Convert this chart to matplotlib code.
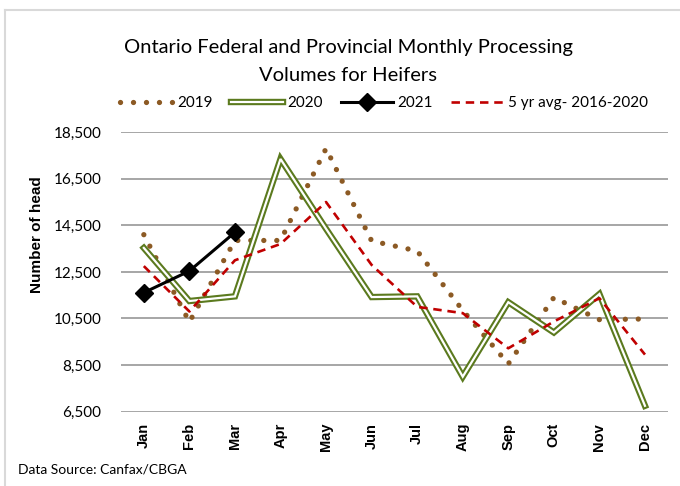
import matplotlib
matplotlib.use("Agg")
import matplotlib.pyplot as plt
from matplotlib.lines import Line2D
from matplotlib.legend_handler import HandlerTuple

months = ["Jan", "Feb", "Mar", "Apr", "May", "Jun", "Jul", "Aug", "Sep", "Oct", "Nov", "Dec"]
y2019 = [14100, 10350, 13850, 13850, 17800, 13830, 13400, 10850, 8550, 11400, 10450, 10480]
y2020 = [13530, 11250, 11450, 17350, 14350, 11420, 11450, 8000, 11200, 9900, 11550, 6750]
y2021 = [11610, 12540, 14200]
y5yr = [12750, 10800, 13000, 13700, 15500, 12800, 11000, 10730, 9220, 10370, 11370, 8950]
yticks = [6500, 8500, 10500, 12500, 14500, 16500, 18500]

title_font = ["Lato", "DejaVu Sans"]

fig = plt.figure(figsize=(6.8, 4.86), dpi=100)
ax = fig.add_axes([0.178, 0.153, 0.804, 0.575])

x = list(range(len(months)))

c2019 = "#8c5a24"
cgreen = "#5b7a1e"
cred = "#c00000"

l19, = ax.plot(x, y2019, color=c2019, lw=3.8, linestyle=(0, (0.01, 2.45)),
               dash_capstyle="round", zorder=3)
l20a, = ax.plot(x, y2020, color=cgreen, lw=4.6, solid_joinstyle="miter", zorder=4)
l20b, = ax.plot(x, y2020, color="white", lw=1.6, solid_joinstyle="miter", zorder=5)
l21, = ax.plot(x[:len(y2021)], y2021, color="black", lw=2.2, marker="D",
               markersize=9, zorder=7)
l5, = ax.plot(x, y5yr, color=cred, lw=1.9, linestyle=(0, (3.2, 2.2)), zorder=6)

ax.set_xlim(-0.5, 11.5)
ax.set_ylim(6500, 18500)
ax.set_yticks(yticks)
ax.set_yticklabels([f"{v:,}" for v in yticks], fontsize=11, family=title_font)
ax.set_xticks(x)
ax.set_xticklabels(months, rotation=90, fontsize=10.5, family="Liberation Sans",
                   fontweight="bold", va="top")
ax.tick_params(length=0, pad=8)
ax.tick_params(axis="y", pad=14)
for s in ax.spines.values():
    s.set_visible(False)
ax.grid(axis="y", color="#a6a6a6", lw=1.4)
ax.set_axisbelow(True)

fig.text(0.055, 0.518, "Number of head", rotation=90, ha="center", va="center",
         fontsize=11, family="Liberation Sans", fontweight="bold")

fig.text(0.512, 0.903, "Ontario Federal and Provincial Monthly Processing",
         ha="center", va="center", fontsize=14.5, family=title_font)
fig.text(0.512, 0.845, "Volumes for Heifers",
         ha="center", va="center", fontsize=14.5, family=title_font)

leg = fig.legend([l19, (l20a, l20b), l21, l5],
                 ["2019", "2020", "2021", "5 yr avg- 2016-2020"],
                 handler_map={tuple: HandlerTuple(ndivide=1)},
                 loc="center", bbox_to_anchor=(0.565, 0.788), ncol=4,
                 frameon=False, prop={"family": title_font, "size": 11},
                 handlelength=3.4, handletextpad=0.3, columnspacing=1.2)

fig.text(0.026, 0.033, "Data Source: Canfax/CBGA", ha="left", va="center",
         fontsize=10, family=title_font)

# frame lines
fig.add_artist(Line2D([0.008, 1.0], [0.979, 0.979], color="#d9d9d9", lw=1.5,
                      transform=fig.transFigure))
fig.add_artist(Line2D([0.008, 0.008], [0.0, 0.979], color="#d9d9d9", lw=1.5,
                      transform=fig.transFigure))

fig.savefig("out.png", dpi=100)
